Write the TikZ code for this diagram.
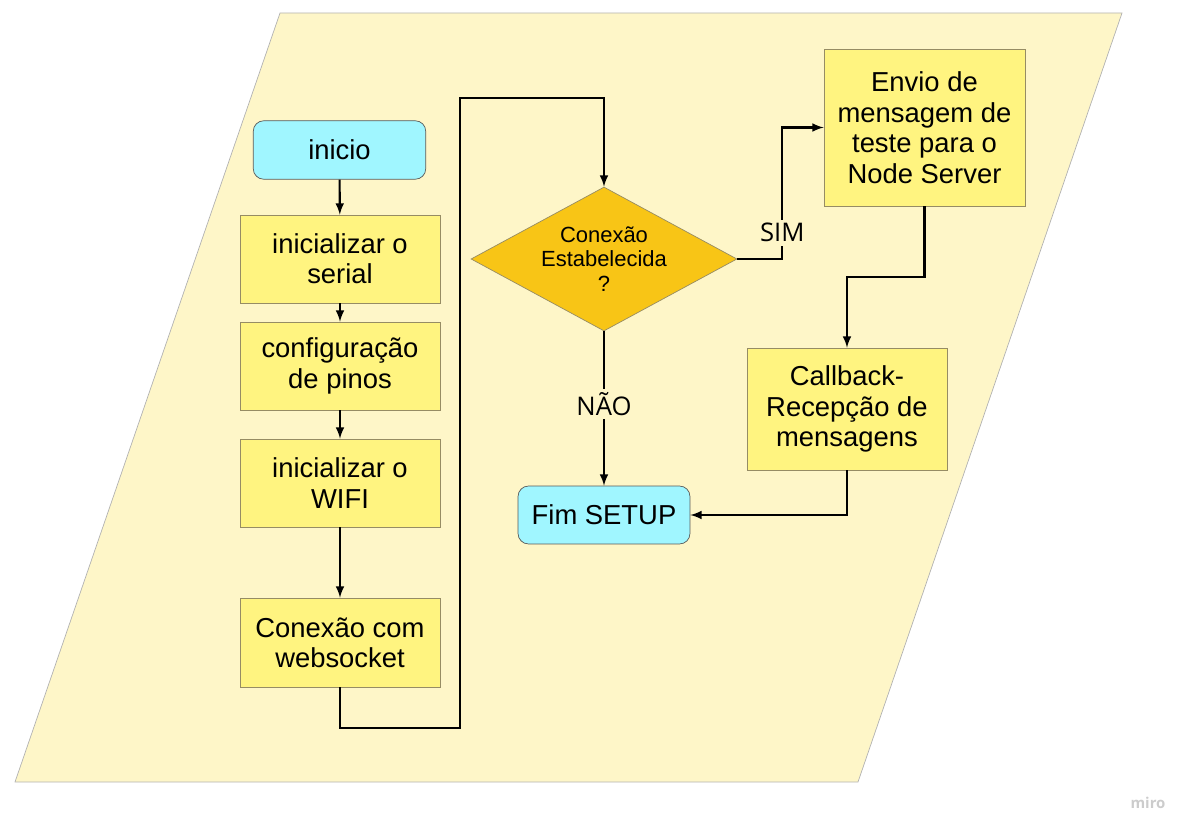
\documentclass[tikz,border=0pt]{standalone}
\usepackage{fontspec}
\setmainfont{Liberation Sans}
\newfontfamily\labelfont{Open Sans}
\usetikzlibrary{shapes.geometric}
\definecolor{bgyellow}{RGB}{254,246,200}
\definecolor{boxyellow}{RGB}{255,244,128}
\definecolor{decisionorange}{RGB}{248,197,22}
\definecolor{startcyan}{RGB}{160,246,255}
\definecolor{edgegray}{RGB}{150,140,100}

\begin{document}
\begin{tikzpicture}[x=0.02cm, y=-0.02cm,
    stepbox/.style={draw=edgegray, fill=boxyellow, minimum width=4cm, minimum height=1.76cm, align=center, font=\fontsize{15.6}{17.2}\selectfont},
    terminal/.style={draw=gray!70!black, fill=startcyan, rounded corners=6pt, minimum width=3.45cm, minimum height=1.17cm, font=\fontsize{15.6}{17.2}\selectfont},
    decision/.style={diamond, draw=edgegray, fill=decisionorange, aspect=1.85, inner sep=0pt, minimum width=5.32cm, minimum height=2.88cm, align=center, font=\fontsize{12.5}{13.8}\selectfont},
    flow/.style={-latex, line width=1.2pt},
    answer/.style={fill=bgyellow, inner sep=2pt, font=\labelfont\fontsize{14.6}{16}\selectfont}]
    \useasboundingbox (0,0) rectangle (1194,837);
    % Background
    \filldraw[fill=bgyellow, draw=gray!60] (280,13) -- (1122,13) -- (858,782) -- (15,782) -- cycle;
    % Setup steps
    \node[terminal] (inicio) at (339.5,150) {inicio};
    \node[stepbox] (serial) at (340,259) {inicializar o\\serial};
    \node[stepbox] (pinos) at (340,366) {configuração\\de pinos};
    \node[stepbox] (wifi) at (340,483) {inicializar o\\WIFI};
    \node[stepbox, minimum height=1.78cm] (websocket) at (340,642.5) {Conexão com\\websocket};
    % Decision
    \node[decision] (conexao) at (604,259) {Conexão\\Estabelecida\\?};
    \node[stepbox, minimum width=4.02cm, minimum height=3.14cm, font=\fontsize{15.6}{17.4}\selectfont] (envio) at (924.5,127.5) {Envio de\\mensagem de\\teste para o\\Node Server};
    \node[stepbox, minimum height=2.44cm] (callback) at (847,409) {Callback-\\Recepção de\\mensagens};
    \node[terminal, minimum width=3.44cm, minimum height=1.16cm] (fim) at (604,515) {Fim SETUP};
    \coordinate (loopturn) at (460,98);

    % Arrows
    \draw[flow] (inicio) -- (serial);
    \draw[flow] (serial) -- (pinos);
    \draw[flow] (pinos) -- (wifi);
    \draw[flow] (wifi) -- (websocket);
    \draw[flow] (websocket.south) -- ++(0,41) -| (loopturn) -| (conexao.north);
    \draw[flow] (conexao.east) -- ++(45,0) |- node[answer, pos=0.1] {SIM} (envio.west);
    \draw[flow] (envio.south) -- ++(0,71) -| (callback.north);
    \draw[flow] (callback.south) |- (fim.east);
    \draw[flow] (conexao.south) -- node[answer, pos=0.47] {NÃO} (fim.north);

    % Watermark
    \node[text=gray!40, font=\labelfont\bfseries\fontsize{8.5}{10}\selectfont] (miro) at (1148,803) {miro};
\end{tikzpicture}
\end{document}
